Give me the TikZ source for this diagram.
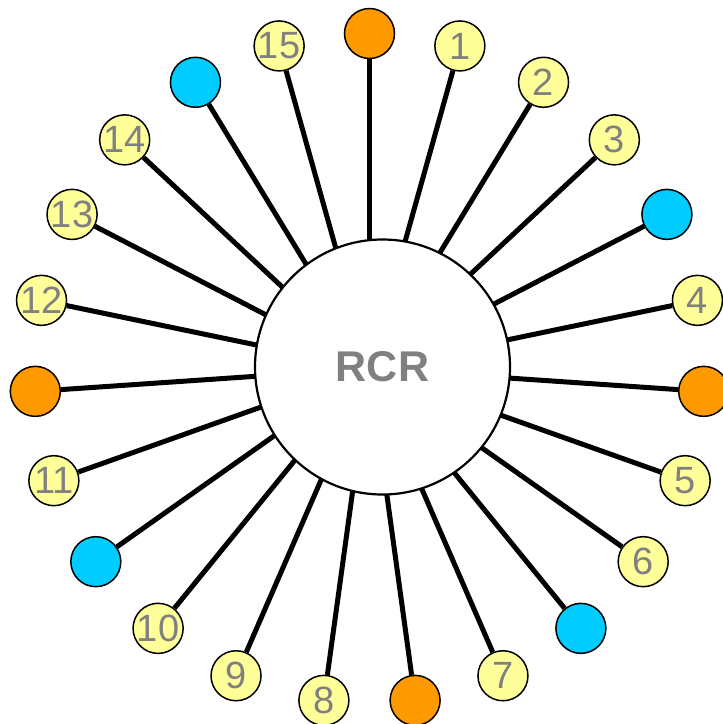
\documentclass[tikz,border=0pt]{standalone}
\usepackage{fontspec}
\setmainfont{Liberation Sans}
\definecolor{numyellow}{RGB}{255,255,153}
\definecolor{dotorange}{RGB}{255,153,0}
\definecolor{dotblue}{RGB}{0,204,255}
\definecolor{labelgray}{RGB}{128,128,128}
\tikzset{
  outer/.style={circle,draw=black,line width=1.5pt,minimum size=50pt,inner sep=0pt,
    font=\fontsize{38}{38}\selectfont,text=labelgray},
  numdot/.style={outer,fill=numyellow},
  orangedot/.style={outer,fill=dotorange},
  bluedot/.style={outer,fill=dotblue},
  spoke/.style={line width=5pt,draw=black},
  hubcircle/.style={circle,draw=black,line width=2.2pt,fill=white,minimum size=255pt,inner sep=0pt,
    font=\fontsize{43}{43}\selectfont\bfseries,text=labelgray}
}
\begin{document}
\begin{tikzpicture}[x=1pt,y=-1pt]
\useasboundingbox (0,0) rectangle (723,724);
\fill[white] (0,0) rectangle (723,724);
\coordinate (hub) at (369.5,368.5);
\foreach \k/\lab/\sty in {0//orangedot,1/1/numdot,2/2/numdot,3/3/numdot,4//bluedot,5/4/numdot,
  6//orangedot,7/5/numdot,8/6/numdot,9//bluedot,10/7/numdot,11//orangedot,12/8/numdot,
  13/9/numdot,14/10/numdot,15//bluedot,16/11/numdot,17//orangedot,18/12/numdot,19/13/numdot,
  20/14/numdot,21//bluedot,22/15/numdot}{
  \node[\sty] (o\k) at ({369.5+335*cos(90-\k*360/23)},{368.5-335*sin(90-\k*360/23)}) {\lab};
  \draw[spoke] (hub) -- (o\k);
}
\node[hubcircle] (rcr) at (382.5,367) {RCR};
\end{tikzpicture}
\end{document}
